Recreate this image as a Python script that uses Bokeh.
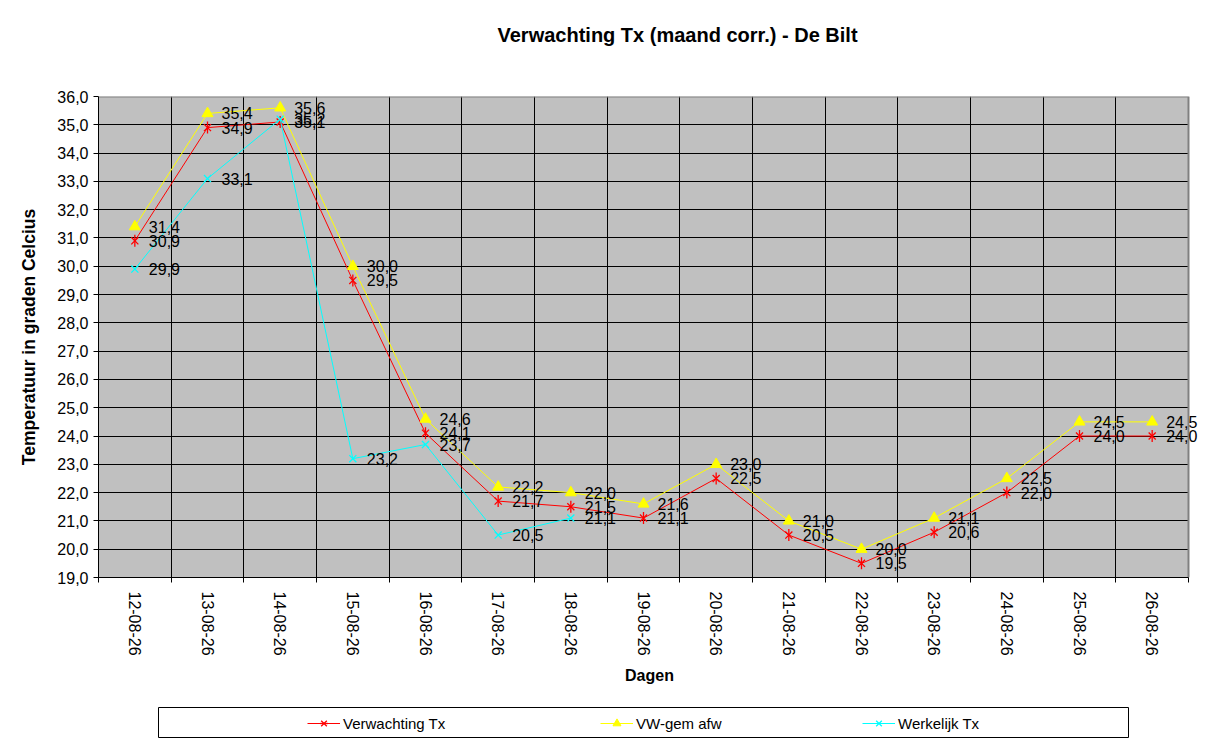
import math
from bokeh.plotting import figure
from bokeh.models import (ColumnDataSource, Range1d, FixedTicker, CustomJSTickFormatter,
                          Label, LabelSet, Legend, LegendItem, Spacer)
from bokeh.layouts import column, row
from bokeh.core.properties import value
from bokeh.embed import file_html
from bokeh.resources import INLINE

# ---- data ----
dates = ["12-08-26", "13-08-26", "14-08-26", "15-08-26", "16-08-26", "17-08-26", "18-08-26",
         "19-08-26", "20-08-26", "21-08-26", "22-08-26", "23-08-26", "24-08-26", "25-08-26", "26-08-26"]
verwachting = [30.9, 34.9, 35.1, 29.5, 24.1, 21.7, 21.5, 21.1, 22.5, 20.5, 19.5, 20.6, 22.0, 24.0, 24.0]
vw_gem = [31.4, 35.4, 35.6, 30.0, 24.6, 22.2, 22.0, 21.6, 23.0, 21.0, 20.0, 21.1, 22.5, 24.5, 24.5]
werkelijk = [29.9, 33.1, 35.2, 23.2, 23.7, 20.5, 21.1]
y_ticks = list(range(19, 37))
title_text = "Verwachting Tx (maand corr.) - De Bilt"

FONT = "Liberation Sans"

def fmt(v):
    return f"{v:.1f}".replace(".", ",")

def src(vals):
    xs = [i + 0.5 for i in range(len(vals))]
    return ColumnDataSource(dict(x=xs, y=vals, t=[fmt(v) for v in vals]))

s_verw = src(verwachting)
s_vw = src(vw_gem)
s_wer = src(werkelijk)

# ---- layout constants ----
LEFT, PLOT_W, RIGHT_PAD = 98, 1090, 12      # plot area 98..1188, frame runs a little further
W = LEFT + PLOT_W + RIGHT_PAD
X0, X1 = 0, len(dates)
Y0, Y1 = y_ticks[0], y_ticks[-1]
x_end = X1 + (X1 - X0) * RIGHT_PAD / PLOT_W   # room right of the plot area for value labels

# ---- title strip ----
tf = figure(width=W, height=60, output_backend="svg", toolbar_location=None,
            x_range=Range1d(0, 1), y_range=Range1d(0, 1),
            x_axis_location=None, y_axis_location=None,
            min_border=0, min_border_left=0, min_border_right=0, min_border_top=0, min_border_bottom=0)
tf.xgrid.visible = False
tf.ygrid.visible = False
tf.outline_line_color = None
tf.background_fill_color = "white"
tf.border_fill_color = "white"
tf.add_layout(Label(x=399, y=26, x_units="screen", y_units="screen", text=title_text,
                    text_font=FONT, text_font_size="20px", text_font_style="bold",
                    text_color="black", text_align="left", text_baseline="middle"))

# ---- main chart ----
p = figure(width=W, height=640, output_backend="svg", toolbar_location=None,
           x_range=Range1d(X0, x_end), y_range=Range1d(Y0, Y1),
           min_border_left=LEFT, min_border_right=0, min_border_top=36, min_border_bottom=123)
p.background_fill_color = "white"
p.border_fill_color = "white"
p.outline_line_color = None

# grey plot area and its grey top/right border
p.quad(left=[X0], right=[X1], bottom=[Y0], top=[Y1], fill_color="#C0C0C0",
       line_color=None, level="image")
p.line(x=[X0, X1, X1], y=[Y1, Y1, Y0], line_color="#808080", line_width=2)

# x axis
centers = [i + 0.5 for i in range(len(dates))]
bounds = list(range(len(dates) + 1))
p.xaxis.bounds = (X0, X1)
p.xaxis.ticker = FixedTicker(ticks=centers, minor_ticks=bounds)
p.xaxis.formatter = CustomJSTickFormatter(args=dict(labels=dates), code="""
    const i = Math.round(tick - 0.5);
    return (i >= 0 && i < labels.length) ? labels[i] : '';
""")
p.xaxis.major_label_orientation = -math.pi / 2
p.xaxis.major_tick_out = 0
p.xaxis.major_tick_in = 0
p.xaxis.minor_tick_out = 5
p.xaxis.minor_tick_in = 0
p.xaxis.major_label_standoff = 9
p.xaxis.axis_label = "Dagen"
p.xaxis.axis_label_standoff = 8
p.xgrid.ticker = FixedTicker(ticks=bounds[1:-1])
p.xgrid.cross_bounds = (Y0, Y1)
p.ygrid.cross_bounds = (X0, X1)

# y axis
p.yaxis.ticker = FixedTicker(ticks=y_ticks)
p.yaxis.formatter = CustomJSTickFormatter(code="return tick.toFixed(1).replace('.', ',');")
p.yaxis.major_tick_out = 5
p.yaxis.major_tick_in = 0
p.yaxis.major_label_standoff = 5
p.yaxis.axis_label = "Temperatuur in graden Celcius"
p.yaxis.axis_label_standoff = 15

for ax in (p.xaxis[0], p.yaxis[0]):
    ax.axis_line_color = "black"
    ax.major_tick_line_color = "black"
    ax.major_label_text_font = FONT
    ax.major_label_text_font_size = "16px"
    ax.major_label_text_color = "black"
    ax.axis_label_text_font = FONT
    ax.axis_label_text_font_size = "16px"
    ax.axis_label_text_font_style = "bold"
    ax.axis_label_text_color = "black"
p.yaxis.axis_label_text_font_size = "17.5px"
p.xaxis.minor_tick_line_color = "black"
p.yaxis.minor_tick_line_color = None

p.xgrid.grid_line_color = "black"
p.ygrid.grid_line_color = "black"
p.xgrid.grid_line_alpha = 1
p.ygrid.grid_line_alpha = 1

# series
series = [
    (s_verw, "#FF0000", "asterisk", "Verwachting Tx"),
    (s_vw, "#FFFF00", "triangle", "VW-gem afw"),
    (s_wer, "#00FFFF", "x", "Werkelijk Tx"),
]

def draw_series(fig, s, c, m):
    rs = [fig.line("x", "y", source=s, line_color=c, line_width=1)]
    if m == "triangle":
        rs.append(fig.scatter("x", "y", source=s, marker="triangle", size=11,
                              fill_color=c, line_color=c))
    elif m == "asterisk":
        rs.append(fig.scatter("x", "y", source=s, marker="x", size=10, line_color=c, line_width=1.3))
        rs.append(fig.scatter("x", "y", source=s, marker="dash", size=12, angle=math.pi / 2,
                              line_color=c, line_width=1.3))
    else:
        rs.append(fig.scatter("x", "y", source=s, marker="x", size=10, line_color=c, line_width=1.3))
    return rs

for s, c, m, name in series:
    draw_series(p, s, c, m)
for s, c, m, name in series:
    p.add_layout(LabelSet(x="x", y="y", text="t", source=s, x_offset=14, y_offset=0,
                          text_baseline="middle", text_align="left", text_font=value(FONT),
                          text_font_size="16px", text_color="black"))

# ---- legend strip ----
lg = figure(width=971, height=31, output_backend="svg", toolbar_location=None,
            x_range=Range1d(0, 1), y_range=Range1d(0, 1),
            x_axis_location=None, y_axis_location=None,
            min_border=0, min_border_left=0, min_border_right=0, min_border_top=0, min_border_bottom=0)
lg.xgrid.visible = False
lg.ygrid.visible = False
lg.background_fill_color = "white"
lg.border_fill_color = "white"
lg.outline_line_color = "black"
lg.outline_line_width = 1

leg_x = [149, 442, 704]
for (s, c, m, name), lx in zip(series, leg_x):
    # offscreen copy of the series used only as legend glyph
    hidden = ColumnDataSource(dict(x=[-10.0], y=[-10.0]))
    rs = draw_series(lg, hidden, c, m)
    leg = Legend(items=[LegendItem(label=name, renderers=rs)], location=(lx, 5),
                 padding=0, margin=0, border_line_color=None, background_fill_alpha=0,
                 glyph_width=33, glyph_height=20, label_height=20, label_standoff=3,
                 label_text_font=FONT, label_text_font_size="15px", label_text_color="black")
    lg.add_layout(leg, "center")

layout = column(tf, p, Spacer(height=7), row(Spacer(width=158), lg))
open("out.html", "w").write(file_html(layout, INLINE))
